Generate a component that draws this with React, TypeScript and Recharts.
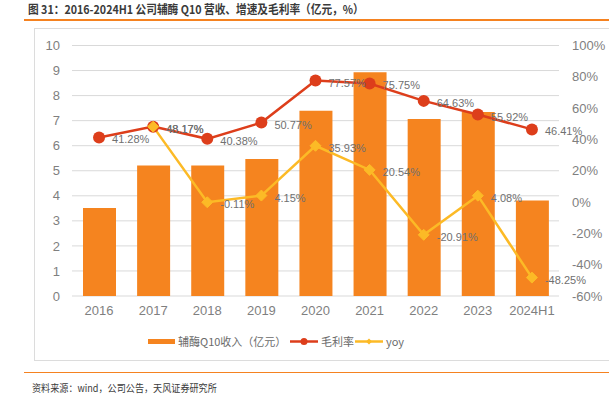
import React from "react";
import { ComposedChart, Bar, Line, XAxis, YAxis, CartesianGrid, LabelList } from "recharts";

const categories = ["2016", "2017", "2018", "2019", "2020", "2021", "2022", "2023", "2024H1"];
const revenue = [3.51, 5.21, 5.21, 5.47, 7.4, 8.93, 7.07, 7.35, 3.81];
const grossMargin = [41.28, 48.17, 40.38, 50.77, 77.57, 75.75, 64.63, 55.92, 46.41];
const yoy: (number | null)[] = [null, 48.17, -0.11, 4.15, 35.93, 20.54, -20.91, 4.08, -48.25];
const leftTicks = [0, 1, 2, 3, 4, 5, 6, 7, 8, 9, 10];
const rightTicks = [-60, -40, -20, 0, 20, 40, 60, 80, 100];

const data = categories.map((c, i) => ({
  name: c,
  revenue: revenue[i],
  margin: grossMargin[i],
  yoy: yoy[i],
}));

const BAR = "#F5841F";
const RED = "#DD3E1B";
const YEL = "#FCBA26";
const FONT = "'Noto Sans CJK SC', 'Liberation Sans', sans-serif";
const AXIS_FONT = "'Liberation Sans', 'Noto Sans CJK SC', sans-serif";

const Diamond = (props: any) => {
  const { cx, cy, value } = props;
  if (value === null || value === undefined || cx == null || cy == null) return null;
  const s = 5.5;
  return (
    <path
      d={`M${cx},${cy - s} L${cx + s},${cy} L${cx},${cy + s} L${cx - s},${cy} Z`}
      fill={YEL}
      stroke={YEL}
    />
  );
};

const pctLabel = (props: any) => {
  const { x, y, value } = props;
  if (value === null || value === undefined) return null;
  return (
    <text x={x + 13} y={y + 6} fill="#707070" fontSize={11} fontFamily={AXIS_FONT}>
      {`${Number(value).toFixed(2)}%`}
    </text>
  );
};

export default function App() {
  return (
    <div style={{ position: "absolute", left: 0, top: 0, width: 609, height: 397, background: "#fff", overflow: "hidden" }}>
      <div
        style={{
          position: "absolute",
          left: 28,
          top: 0,
          fontFamily: FONT,
          fontSize: 12,
          fontWeight: 700,
          color: "#3a3a3a",
          lineHeight: "17px",
          whiteSpace: "nowrap",
          transform: "scaleX(0.89)",
          transformOrigin: "left center",
        }}
      >
        图 31：2016-2024H1 公司辅酶 Q10 营收、增速及毛利率（亿元，%）
      </div>
      <div style={{ position: "absolute", left: 24, top: 19, width: 590, height: 1.5, background: "#F58220" }} />
      <div
        style={{
          position: "absolute",
          left: 34,
          top: 28,
          width: 600,
          height: 333,
          border: "1px solid #DCDCDC",
          boxSizing: "border-box",
        }}
      />
      <div style={{ position: "absolute", left: 0, top: 0 }}>
        <ComposedChart
          width={609}
          height={397}
          data={data}
          margin={{ top: 45.5, right: 0, bottom: 71, left: 0 }}
          barCategoryGap={0}
        >
          <CartesianGrid vertical={false} stroke="#D9D9D9" yAxisId="left" horizontalValues={leftTicks} />
          <XAxis
            dataKey="name"
            axisLine={false}
            tickLine={false}
            tickMargin={4}
            height={30}
            interval={0}
            tick={{ fill: "#7F7F7F", fontSize: 13, fontFamily: AXIS_FONT }}
          />
          <YAxis
            yAxisId="left"
            orientation="left"
            width={72}
            domain={[0, 10]}
            ticks={leftTicks}
            axisLine={false}
            tickLine={false}
            tickMargin={6}
            interval={0}
            tick={{ fill: "#7F7F7F", fontSize: 13, fontFamily: AXIS_FONT }}
          />
          <YAxis
            yAxisId="right"
            orientation="right"
            width={50}
            domain={[-60, 100]}
            ticks={rightTicks}
            axisLine={false}
            tickLine={false}
            tickMargin={7}
            interval={0}
            tickFormatter={(v: number) => `${v}%`}
            tick={{ fill: "#7F7F7F", fontSize: 13, fontFamily: AXIS_FONT }}
          />
          <Bar yAxisId="left" dataKey="revenue" fill={BAR} barSize={33} isAnimationActive={false} />
          <Line
            yAxisId="right"
            dataKey="margin"
            stroke={RED}
            strokeWidth={2.5}
            dot={{ r: 6, fill: RED, stroke: RED, strokeWidth: 0 }}
            activeDot={false}
            isAnimationActive={false}
          >
            <LabelList dataKey="margin" content={pctLabel} />
          </Line>
          <Line
            yAxisId="right"
            dataKey="yoy"
            stroke={YEL}
            strokeWidth={2.5}
            dot={<Diamond />}
            activeDot={false}
            connectNulls={false}
            isAnimationActive={false}
          >
            <LabelList dataKey="yoy" content={pctLabel} />
          </Line>
        </ComposedChart>
      </div>
      {/* legend */}
      <div style={{ position: "absolute", left: 0, top: 333, width: 609, height: 18, fontFamily: FONT, fontSize: 11, color: "#6B6B6B" }}>
        <div style={{ position: "absolute", left: 148, top: 6, width: 27, height: 5, background: BAR }} />
        <div style={{ position: "absolute", left: 178, top: 0, lineHeight: "17px", whiteSpace: "nowrap" }}>辅酶Q10收入（亿元）</div>
        <svg style={{ position: "absolute", left: 290, top: 0 }} width={30} height={17}>
          <line x1={0} y1={8.5} x2={28} y2={8.5} stroke={RED} strokeWidth={2.5} />
          <circle cx={14} cy={8.5} r={3.5} fill={RED} />
        </svg>
        <div style={{ position: "absolute", left: 321, top: 0, lineHeight: "17px", whiteSpace: "nowrap" }}>毛利率</div>
        <svg style={{ position: "absolute", left: 355, top: 0 }} width={30} height={17}>
          <line x1={0} y1={8.5} x2={28} y2={8.5} stroke={YEL} strokeWidth={2.5} />
          <path d="M14,5.5 L17,8.5 L14,11.5 L11,8.5 Z" fill={YEL} />
        </svg>
        <div style={{ position: "absolute", left: 386, top: 0, lineHeight: "17px", whiteSpace: "nowrap" }}>yoy</div>
      </div>
      <div style={{ position: "absolute", left: 24, top: 371.5, width: 590, height: 1.5, background: "#F58220" }} />
      <div
        style={{
          position: "absolute",
          left: 32,
          top: 379,
          fontFamily: FONT,
          fontSize: 10,
          color: "#3a3a3a",
          lineHeight: "17px",
          whiteSpace: "nowrap",
          transform: "scaleX(0.91)",
          transformOrigin: "left center",
        }}
      >
        资料来源：wind，公司公告，天风证券研究所
      </div>
    </div>
  );
}
